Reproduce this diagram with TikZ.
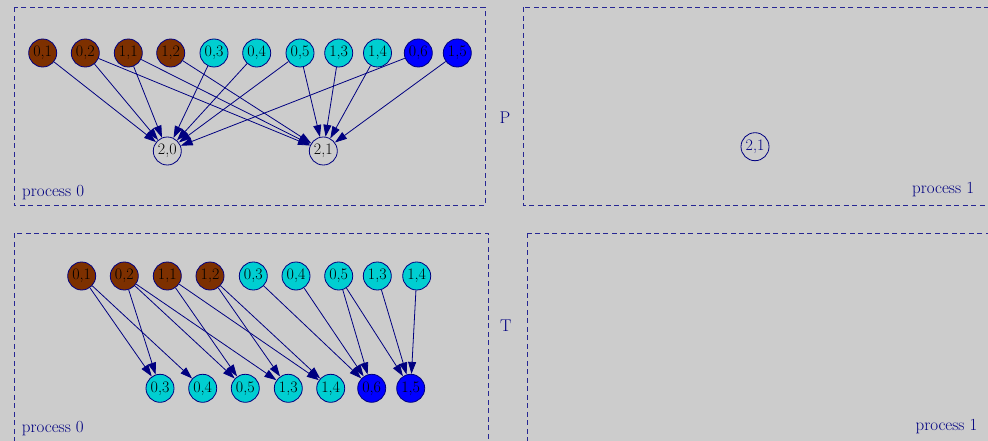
\documentclass[tikz,border=0pt]{standalone}
\usepackage{fontspec}
\usetikzlibrary{arrows.meta}
\definecolor{bgc}{HTML}{CCCCCC}
\definecolor{navyc}{HTML}{000080}
\definecolor{brownc}{HTML}{7D3000}
\definecolor{cyanc}{HTML}{00CED1}
\definecolor{bluec}{HTML}{0000FF}
\newcommand\nodefont{\fontsize{16}{18}\selectfont}
\newcommand\labelfont{\fontsize{17}{20}\selectfont}
\tikzset{
  task/.style={circle, draw=navyc, line width=0.8pt, minimum size=28pt, inner sep=0pt, font=\nodefont, text=black},
  brn/.style={task, fill=brownc},
  cyn/.style={task, fill=cyanc},
  blu/.style={task, fill=bluec},
  emp/.style={task},
  edge/.style={draw=navyc, line width=0.8pt, -{Triangle[length=12pt,width=8pt]}},
  procbox/.style={draw=navyc!85!white, line width=0.8pt, dash pattern=on 5pt off 3.5pt},
  lbl/.style={text=navyc, font=\labelfont, inner sep=0pt}
}
\begin{document}
\begin{tikzpicture}[x=1pt,y=-1pt]
\useasboundingbox (0,0) rectangle (988,441);
\clip (0,0) rectangle (988,441);
\fill[bgc] (0,0) rectangle (988,441);
% boxes
\draw[procbox] (14,7.5) rectangle (485,205.7);
\draw[procbox] (523.3,7.5) rectangle (1000,205.7);
\draw[procbox] (14,233.3) rectangle (488.3,460);
\draw[procbox] (527.7,233.3) rectangle (1000,460);
% labels
\node[lbl, anchor=base west] (lp0) at (22,196.5) {process 0};
\node[lbl, anchor=base east] (lp1) at (974.3,193.5) {process 1};
\node[lbl, anchor=base west] (lt0) at (21.7,432.3) {process 0};
\node[lbl, anchor=base east] (lt1) at (977.7,430) {process 1};
\node[lbl] (lP) at (505,118) {P};
\node[lbl] (lT) at (505.7,326) {T};
% P graph
\node[brn] (p01) at (42.7,53) {0,1};
\node[brn] (p02) at (85.3,53) {0,2};
\node[brn] (p11) at (128.3,53) {1,1};
\node[brn] (p12) at (170.7,53) {1,2};
\node[cyn] (p03) at (214,53) {0,3};
\node[cyn] (p04) at (256.7,53) {0,4};
\node[cyn] (p05) at (300,53) {0,5};
\node[cyn] (p13) at (338.7,53) {1,3};
\node[cyn] (p14) at (377.5,53) {1,4};
\node[blu] (p06) at (418.3,53) {0,6};
\node[blu] (p15) at (457.3,53) {1,5};
\node[emp] (p20) at (167.3,151) {2,0};
\node[emp] (p21) at (323.3,151) {2,1};
\node[emp, text=navyc] (q21) at (755,146.7) {2,1};
\foreach \s/\t in {p01/p20,p02/p20,p02/p21,p11/p20,p11/p21,p12/p21,p03/p20,p04/p20,p05/p20,p05/p21,p13/p21,p14/p21,p06/p20,p15/p21}
  \draw[edge] (\s) -- (\t);
% T graph
\node[brn] (t01) at (81.7,276) {0,1};
\node[brn] (t02) at (124.3,276) {0,2};
\node[brn] (t11) at (167.3,276) {1,1};
\node[brn] (t12) at (210,276) {1,2};
\node[cyn] (t03) at (253.3,276) {0,3};
\node[cyn] (t04) at (296,276) {0,4};
\node[cyn] (t05) at (338.7,276) {0,5};
\node[cyn] (t13) at (377.3,276) {1,3};
\node[cyn] (t14) at (416.7,276) {1,4};
\node[cyn] (s03) at (160,388.3) {0,3};
\node[cyn] (s04) at (202.7,388.3) {0,4};
\node[cyn] (s05) at (245.3,388.3) {0,5};
\node[cyn] (s13) at (288.3,388.3) {1,3};
\node[cyn] (s14) at (330.7,388.3) {1,4};
\node[blu] (s06) at (371.7,388.3) {0,6};
\node[blu] (s15) at (410.7,388.3) {1,5};
\foreach \s/\t in {t01/s03,t01/s04,t02/s03,t02/s05,t02/s13,t11/s05,t11/s14,t12/s13,t12/s14,t03/s06,t04/s06,t05/s06,t05/s15,t13/s15,t14/s15}
  \draw[edge] (\s) -- (\t);
\end{tikzpicture}
\end{document}
